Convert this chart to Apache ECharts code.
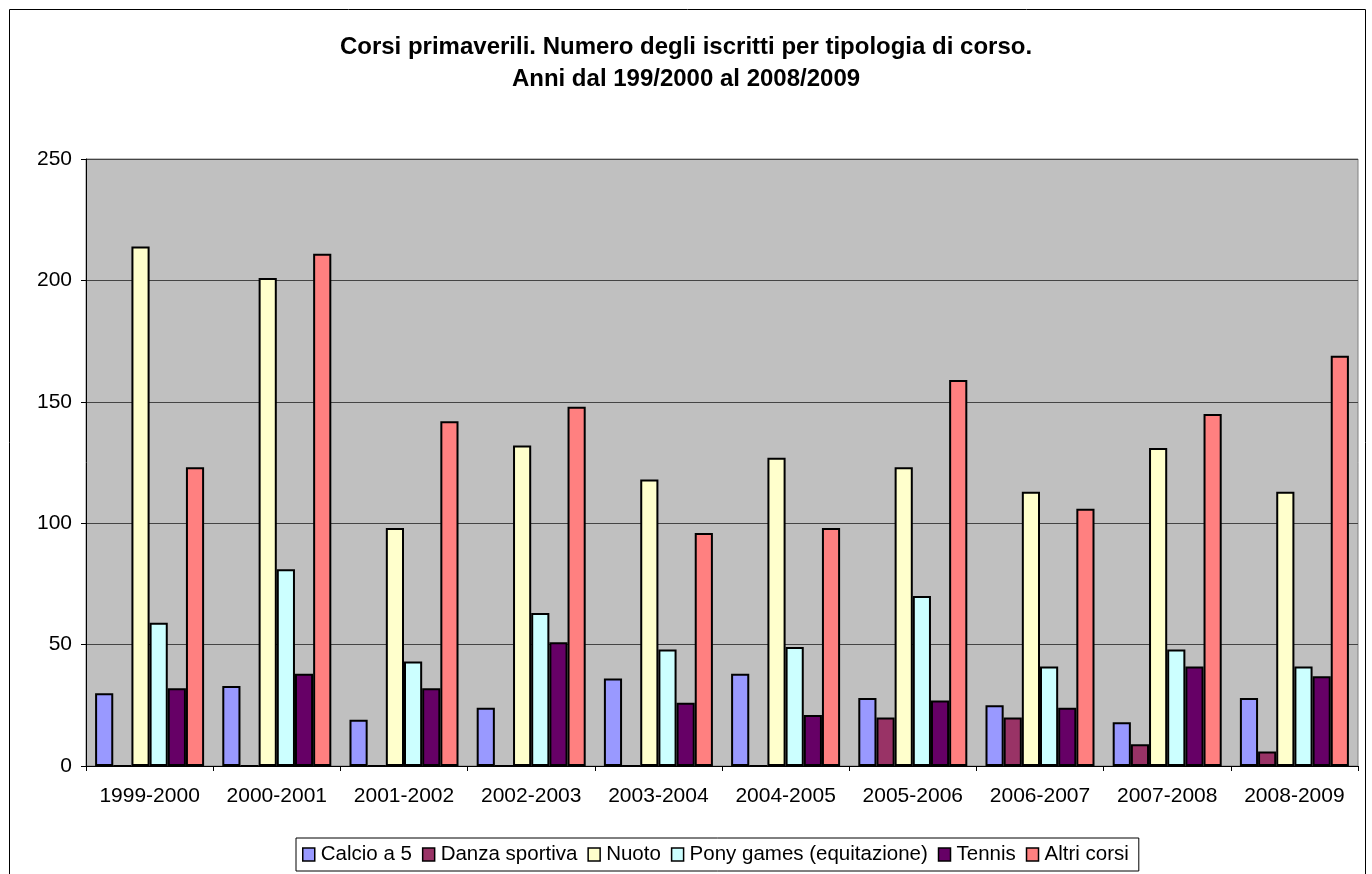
<!DOCTYPE html>
<html><head><meta charset="utf-8">
<script src="https://cdn.jsdelivr.net/npm/echarts@6/dist/echarts.min.js"></script>
<style>html,body{margin:0;padding:0;background:#fff}#c{width:1372px;height:874px}</style>
</head><body><div id="c"></div>
<script>
const categories = ['1999-2000','2000-2001','2001-2002','2002-2003','2003-2004','2004-2005','2005-2006','2006-2007','2007-2008','2008-2009'];
const calcio = [30,33,19,24,36,38,28,25,18,28];
const danza  = [0,0,0,0,0,0,20,20,9,6];
const nuoto  = [214,201,98,132,118,127,123,113,131,113];
const pony   = [59,81,43,63,48,49,70,41,48,41];
const tennis = [32,38,32,51,26,21,27,24,41,37];
const altri  = [123,211,142,148,96,98,159,106,145,169];
const yTicks = [0,50,100,150,200,250];

const seriesDefs = [
  ['Calcio a 5', calcio, '#9999FF'],
  ['Danza sportiva', danza, '#993366'],
  ['Nuoto', nuoto, '#FFFFCC'],
  ['Pony games (equitazione)', pony, '#CCFFFF'],
  ['Tennis', tennis, '#660066'],
  ['Altri corsi', altri, '#FF8080']
];
const font = 'Arial, "Liberation Sans", sans-serif';
const chart = echarts.init(document.getElementById('c'));
chart.setOption({
  animation:false,
  backgroundColor:'#fff',
  graphic:[{type:'rect',shape:{x:9.5,y:9.5,width:1356,height:880},style:{fill:'none',stroke:'#000',lineWidth:1},z:-1}],
  title:{text:'Corsi primaverili. Numero degli iscritti per tipologia di corso.\nAnni dal 199/2000 al 2008/2009',left:'center',top:26,
    textStyle:{fontFamily:font,fontSize:24,fontWeight:'bold',color:'#000',lineHeight:32}},
  legend:{bottom:3,left:296,itemWidth:12,itemHeight:13,itemGap:10,borderColor:'#000',borderWidth:1,padding:[6,10,6,6],
    textStyle:{fontFamily:font,fontSize:20.5,color:'#000',padding:[0,0,0,1]},
    data:seriesDefs.map(s=>({name:s[0],icon:'rect',itemStyle:{borderColor:'#000',borderWidth:1.5}}))},
  grid:{left:86,right:14,top:159,bottom:108,show:true,backgroundColor:'#C0C0C0',borderColor:'#808080',borderWidth:1},
  xAxis:{type:'category',data:categories,boundaryGap:true,
    axisLine:{lineStyle:{color:'#000',width:1}},
    axisTick:{show:true,length:5,alignWithLabel:false,lineStyle:{color:'#000'}},
    axisLabel:{interval:0,fontFamily:font,fontSize:21,color:'#000',margin:20}},
  yAxis:{type:'value',min:0,max:250,interval:50,
    axisLine:{show:true,lineStyle:{color:'#000',width:1}},
    axisTick:{show:true,length:5,lineStyle:{color:'#000'}},
    axisLabel:{fontFamily:font,fontSize:21,color:'#000',margin:14,formatter:v=>yTicks.includes(v)?String(v):''},
    splitLine:{show:true,lineStyle:{color:'#444',width:1}}},
  series:seriesDefs.map(s=>({name:s[0],type:'bar',data:s[1],barGap:'0%',barCategoryGap:'14.3%',
    itemStyle:{color:s[2],borderColor:'#000',borderWidth:2}}))
});
</script></body></html>
